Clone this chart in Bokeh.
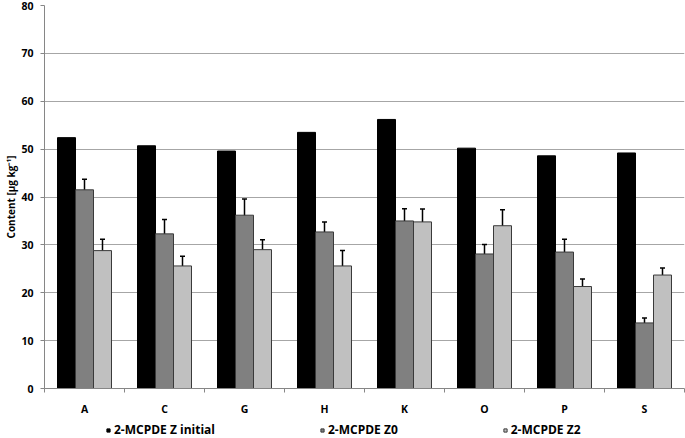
from bokeh.plotting import figure
from bokeh.layouts import column
from bokeh.models import (ColumnDataSource, Whisker, TeeHead, FixedTicker, Legend, LegendItem, Range1d)
from bokeh.embed import file_html
from bokeh.resources import INLINE

categories = ["A", "C", "G", "H", "K", "O", "P", "S"]
z_initial = [52.4, 50.7, 49.6, 53.5, 56.2, 50.2, 48.6, 49.2]
z0 = [41.5, 32.3, 36.2, 32.7, 35.0, 28.1, 28.5, 13.7]
z0_err = [2.2, 3.0, 3.4, 2.1, 2.55, 2.0, 2.7, 1.05]
z2 = [28.8, 25.6, 29.0, 25.6, 34.8, 34.0, 21.3, 23.7]
z2_err = [2.35, 2.0, 2.05, 3.2, 2.7, 3.35, 1.55, 1.45]
series_names = ["2-MCPDE Z initial", "2-MCPDE Z0", "2-MCPDE Z2"]
series_fill = ["#000000", "#808080", "#c0c0c0"]
series_line = ["#000000", "#3a3a3a", "#3a3a3a"]
y_ticks = [0, 10, 20, 30, 40, 50, 60, 70, 80]

FONT = "Open Sans"
n = len(categories)
centers = [i + 0.5 for i in range(n)]
bw = 0.225

p = figure(width=685, height=418, output_backend="svg", toolbar_location=None,
           x_range=Range1d(0, n), y_range=Range1d(0, 80),
           min_border_left=44, min_border_right=1, min_border_top=5, min_border_bottom=30)
p.outline_line_color = None

def src(vals, err=None, off=0.0):
    d = dict(x=[c + off for c in centers], top=vals)
    if err is not None:
        d["upper"] = [v + e for v, e in zip(vals, err)]
        d["lower"] = [v - e for v, e in zip(vals, err)]
    return ColumnDataSource(d)

sources = [src(z_initial, off=-bw), src(z0, z0_err, off=0.0), src(z2, z2_err, off=bw)]
for s, fc, lc in zip(sources, series_fill, series_line):
    p.vbar(x="x", top="top", width=bw, source=s, fill_color=fc, line_color=lc, line_width=1)

for s in sources[1:]:
    w = Whisker(base="x", upper="upper", lower="lower", source=s, dimension="height",
                line_color="black", line_width=1.5,
                upper_head=TeeHead(size=5, line_color="black", line_width=1.5),
                lower_head=TeeHead(size=5, line_color="black", line_width=1.5))
    p.add_layout(w)

# x axis: labels at centres, ticks at category boundaries
p.xaxis.ticker = FixedTicker(ticks=centers, minor_ticks=list(range(n + 1)))
p.xaxis.major_label_overrides = {c: lab for c, lab in zip(centers, categories)}
p.xaxis.major_tick_line_color = None
p.xaxis.major_tick_out = 4
p.xaxis.major_tick_in = 0
p.xaxis.minor_tick_line_color = "#868686"
p.xaxis.minor_tick_out = 4
p.xaxis.minor_tick_in = 0
p.xaxis.axis_line_color = "#868686"
p.xaxis.major_label_text_font = FONT
p.xaxis.major_label_text_font_style = "bold"
p.xaxis.major_label_text_font_size = "10.5px"
p.xaxis.major_label_text_color = "#000000"
p.xaxis.major_label_standoff = 9

p.yaxis.ticker = FixedTicker(ticks=y_ticks)
p.yaxis.minor_tick_line_color = None
p.yaxis.major_tick_line_color = "#868686"
p.yaxis.major_tick_out = 4
p.yaxis.major_tick_in = 0
p.yaxis.axis_line_color = "#868686"
p.yaxis.major_label_text_font = FONT
p.yaxis.major_label_text_font_style = "bold"
p.yaxis.major_label_text_font_size = "10.5px"
p.yaxis.major_label_text_color = "#000000"
p.yaxis.major_label_standoff = 7
p.yaxis.axis_label = "Content [µg kg⁻¹]"
p.yaxis.axis_label_text_font = FONT
p.yaxis.axis_label_text_font_style = "bold"
p.yaxis.axis_label_text_font_size = "10px"
p.yaxis.axis_label_text_color = "#000000"
p.yaxis.axis_label_standoff = 0

p.xgrid.grid_line_color = None
p.ygrid.grid_line_color = "#a6a6a6"
p.ygrid.grid_line_width = 1

# legend strip below the chart (its frame is aligned with the main frame)
lg = figure(width=685, height=20, output_backend="svg", toolbar_location=None,
            x_range=Range1d(0, 1), y_range=Range1d(0, 1),
            x_axis_location=None, y_axis_location=None,
            min_border_left=0, min_border_right=0, min_border_top=0, min_border_bottom=0)
lg.outline_line_color = None
lg.xgrid.grid_line_color = None
lg.ygrid.grid_line_color = None
items = []
for name, fc, lc in zip(series_names, series_fill, series_line):
    # legend swatch only: a single point kept outside the visible range
    r = lg.scatter(x=[-5], y=[-5], marker="square", size=7, fill_color=fc, line_color=lc, line_width=1)
    items.append(LegendItem(label=name, renderers=[r]))
legend = Legend(items=items, orientation="horizontal", location=(60, 0), spacing=103,
                glyph_width=8, glyph_height=16, label_height=16, label_standoff=2,
                label_text_font=FONT, label_text_font_style="bold", label_text_font_size="12px",
                label_text_color="#000000",
                border_line_color=None, background_fill_alpha=0, padding=0, margin=0)
lg.add_layout(legend)

layout = column(p, lg, spacing=0)
open("out.html", "w").write(file_html(layout, INLINE))
